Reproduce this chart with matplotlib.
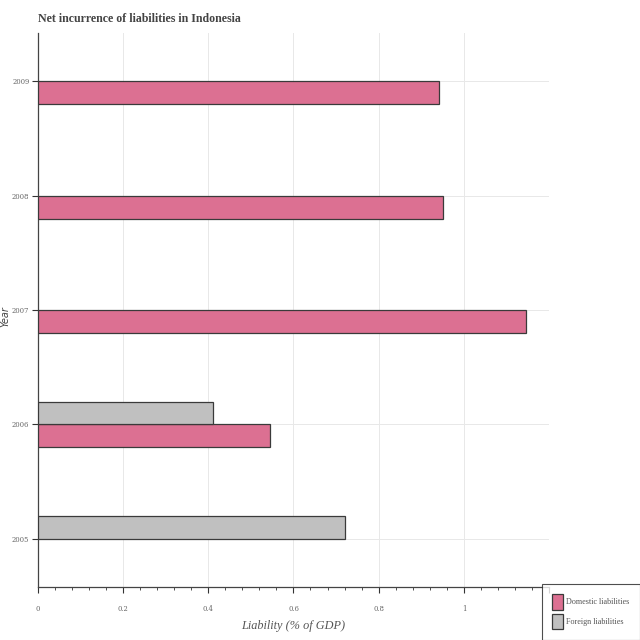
import matplotlib.pyplot as plt
import numpy as np
from matplotlib.ticker import MultipleLocator
from matplotlib.font_manager import FontProperties

years = [2005, 2006, 2007, 2008, 2009]
domestic = [np.nan, 0.546, 1.146, 0.951, 0.941]
foreign = [0.722, 0.412, np.nan, np.nan, np.nan]

pink = '#dc7092'
grey = '#c0c0c0'
edge = '#3a3a3a'


def serif(size, **kw):
    return FontProperties(family='DejaVu Serif', stretch='condensed', size=size, **kw)


def times(size, **kw):
    return FontProperties(family='Liberation Serif', size=size, **kw)


fig = plt.figure(figsize=(6.4, 6.4), dpi=100)
ax = fig.add_axes([0.059, 0.083, 0.799, 0.865])

h = 0.2
y = np.array(years, dtype=float)
ax.barh(y - h / 2, domestic, height=h, color=pink, edgecolor=edge, linewidth=0.9,
        label='Domestic liabilities', zorder=3)
ax.barh(y + h / 2, foreign, height=h, color=grey, edgecolor=edge, linewidth=0.9,
        label='Foreign liabilities', zorder=3)

ax.set_xlim(0, 1.2)
ax.set_ylim(2004.58, 2009.42)
ax.set_yticks(years)
ax.set_yticklabels([str(v) for v in years])
ax.set_xticks([0, 0.2, 0.4, 0.6, 0.8, 1.0, 1.2])
ax.set_xticklabels(['0', '0.2', '0.4', '0.6', '0.8', '1', ''])
ax.xaxis.set_minor_locator(MultipleLocator(0.04))

for lab in ax.get_xticklabels() + ax.get_yticklabels():
    lab.set_fontproperties(serif(5.5))
    lab.set_color('#666666')

ax.tick_params(axis='both', which='major', length=4, width=0.8, color='#333333', direction='out')
ax.tick_params(axis='x', which='minor', length=2.5, width=0.6, color='#333333')
ax.tick_params(axis='x', pad=9)
ax.tick_params(axis='y', pad=2)

ax.grid(True, color='#e8e8e8', linewidth=0.7, zorder=0)
for s in ['top', 'right']:
    ax.spines[s].set_visible(False)
for s in ['left', 'bottom']:
    ax.spines[s].set_color('#444444')
    ax.spines[s].set_linewidth(0.9)

ax.set_xlabel('Liability (% of GDP)', fontproperties=times(8.8, style='italic'),
              color='#555555', labelpad=5)
fig.text(0.009, 0.505, 'Year', rotation=90, fontfamily='DejaVu Sans', fontstyle='italic',
         fontsize=7, color='#444444', ha='center', va='center')
fig.text(0.059, 0.971, 'Net incurrence of liabilities in Indonesia',
         fontproperties=times(8.6, weight='bold'), color='#444444', ha='left', va='center')

leg = fig.legend(loc='lower right', bbox_to_anchor=(1.0, 0.0), frameon=True,
                 prop=times(5.9), fancybox=False,
                 handlelength=1.3, handleheight=2.5, handletextpad=0.4,
                 borderpad=1.3, labelspacing=0.55, borderaxespad=0.0)
leg.get_frame().set_edgecolor('#222222')
leg.get_frame().set_linewidth(0.8)
for t in leg.get_texts():
    t.set_color('#555555')

fig.savefig('out.png', dpi=100)
